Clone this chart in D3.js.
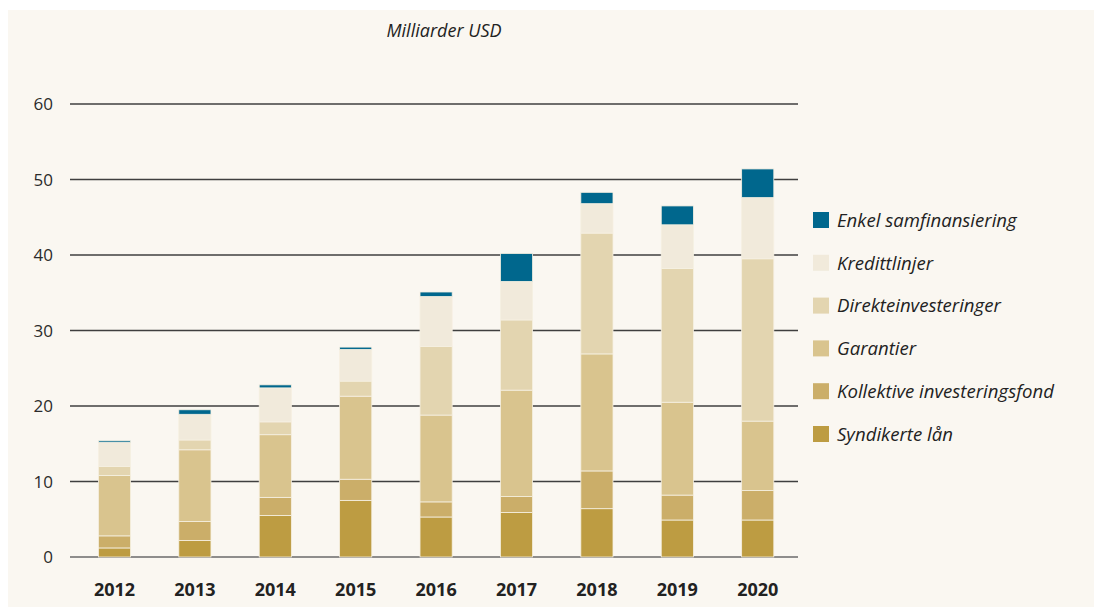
<!DOCTYPE html>
<html>
<head>
<meta charset="utf-8">
<script src="https://cdn.jsdelivr.net/npm/d3@7"></script>
<style>
  html, body { margin: 0; padding: 0; background: #ffffff; }
  svg { display: block; font-family: "Open Sans", sans-serif; }
</style>
</head>
<body>
<div id="chart"></div>
<script>
// Milliarder USD per år, stablet etter instrument
const years = ["2012", "2013", "2014", "2015", "2016", "2017", "2018", "2019", "2020"]
const seriesNames = ["Syndikerte lån", "Kollektive investeringsfond", "Garantier", "Direkteinvesteringer", "Kredittlinjer", "Enkel samfinansiering"]
const syndikerte = [1.2, 2.2, 5.5, 7.5, 5.3, 5.9, 6.4, 4.9, 4.9]
const kollektive = [1.6, 2.5, 2.4, 2.8, 2.0, 2.1, 5.0, 3.3, 3.9]
const garantier = [8.0, 9.5, 8.3, 11.0, 11.5, 14.1, 15.5, 12.3, 9.2]
const direkte = [1.2, 1.3, 1.7, 2.0, 9.1, 9.3, 16.0, 17.7, 21.5]
const kreditt = [3.2, 3.4, 4.5, 4.2, 6.6, 5.1, 3.9, 5.8, 8.1]
const enkel = [0.2, 0.6, 0.4, 0.3, 0.6, 3.7, 1.5, 2.5, 3.8]
const yTicks = [0, 10, 20, 30, 40, 50, 60]
const colors = ["#bd9c42", "#cbae69", "#d9c48e", "#e3d5b0", "#f1eadb", "#00678d"]

const W = 1094, H = 608
const svg = d3.select("#chart").append("svg").attr("width", W).attr("height", H)

svg.append("rect").attr("x", 8).attr("y", 10).attr("width", W - 8).attr("height", H - 11).attr("fill", "#faf7f1")

const x = d3.scaleBand().domain(years).range([70, 798]).paddingInner(0.6).paddingOuter(0.327).align(0.54)
const y = d3.scaleLinear().domain([0, 60]).range([557, 104])

// Grid lines
svg.append("g")
  .selectAll("line")
  .data(yTicks)
  .join("line")
  .attr("x1", 70).attr("x2", 798)
  .attr("y1", d => y(d)).attr("y2", d => y(d))
  .attr("stroke", d => d === 0 ? "#6a6a6a" : "#3f3f3f")
  .attr("stroke-width", 1.3)

// Y tick labels
svg.append("g")
  .selectAll("text")
  .data(yTicks)
  .join("text")
  .attr("x", 53).attr("y", d => y(d))
  .attr("dy", "0.36em")
  .attr("text-anchor", "end")
  .attr("font-size", 17)
  .attr("fill", "#2b2b2b")
  .text(d => d)

// Stacked bars
const rows = years.map((yr, i) => ({
  year: yr,
  [seriesNames[0]]: syndikerte[i],
  [seriesNames[1]]: kollektive[i],
  [seriesNames[2]]: garantier[i],
  [seriesNames[3]]: direkte[i],
  [seriesNames[4]]: kreditt[i],
  [seriesNames[5]]: enkel[i]
}))
const stacked = d3.stack().keys(seriesNames)(rows)

svg.append("g")
  .selectAll("g")
  .data(stacked)
  .join("g")
  .attr("fill", (d, i) => colors[i])
  .selectAll("rect")
  .data(d => d)
  .join("rect")
  .attr("x", d => x(d.data.year))
  .attr("width", x.bandwidth())
  .attr("y", d => y(d[1]))
  .attr("height", d => y(d[0]) - y(d[1]))
  .attr("stroke", "#f6f0e2")
  .attr("stroke-width", 0.8)

// X axis labels
svg.append("g")
  .selectAll("text")
  .data(years)
  .join("text")
  .attr("x", d => x(d) + x.bandwidth() / 2)
  .attr("y", 590)
  .attr("dy", "0.36em")
  .attr("text-anchor", "middle")
  .attr("font-size", 18)
  .attr("font-weight", 700)
  .attr("fill", "#222")
  .text(d => d)

// Unit title
svg.append("text")
  .attr("x", 444).attr("y", 31)
  .attr("dy", "0.36em")
  .attr("text-anchor", "middle")
  .attr("font-size", 18)
  .attr("font-style", "italic")
  .attr("fill", "#222")
  .text("Milliarder USD")

// Legend (top to bottom: reverse stack order)
const legendItems = seriesNames.map((name, i) => ({ name, color: colors[i] })).reverse()
const legend = svg.append("g")
  .selectAll("g")
  .data(legendItems)
  .join("g")
  .attr("transform", (d, i) => `translate(813,${220 + i * 42.8})`)

legend.append("rect")
  .attr("x", 0).attr("y", -8)
  .attr("width", 16).attr("height", 16)
  .attr("fill", d => d.color)

legend.append("text")
  .attr("x", 24).attr("y", 0)
  .attr("dy", "0.36em")
  .attr("font-size", 18.6)
  .attr("font-style", "italic")
  .attr("fill", "#222")
  .text(d => d.name)
</script>
</body>
</html>
